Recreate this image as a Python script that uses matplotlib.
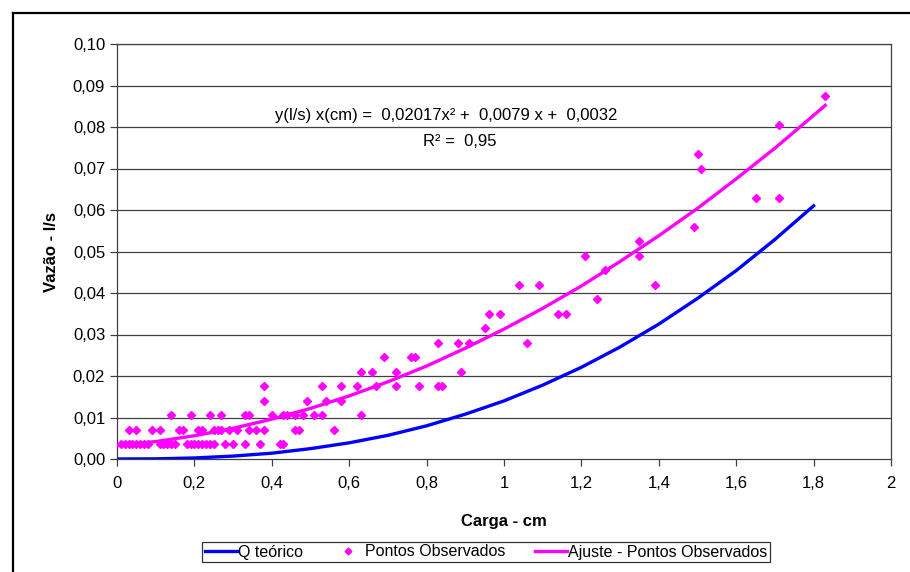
import matplotlib
matplotlib.use("Agg")
import matplotlib.pyplot as plt
from matplotlib.lines import Line2D

plt.rcParams["font.family"] = ["Liberation Sans", "DejaVu Sans"]

carga_obs = [0.01, 0.02, 0.03, 0.04, 0.05, 0.06, 0.07, 0.08, 0.11, 0.12, 0.13, 0.14, 0.15,
             0.18, 0.19, 0.20, 0.21, 0.22, 0.23, 0.24, 0.25, 0.28, 0.30, 0.33, 0.37, 0.42, 0.43,
             0.03, 0.05, 0.09, 0.11, 0.16, 0.17, 0.21, 0.22, 0.25, 0.26, 0.27, 0.29, 0.31, 0.34,
             0.36, 0.38, 0.46, 0.47, 0.56,
             0.14, 0.19, 0.24, 0.27, 0.33, 0.34, 0.40, 0.43, 0.44, 0.46, 0.48, 0.51, 0.53, 0.63,
             0.38, 0.49, 0.54, 0.58,
             0.38, 0.53, 0.58, 0.62, 0.67, 0.72, 0.78, 0.83, 0.84,
             0.63, 0.66, 0.72, 0.89,
             0.69, 0.76, 0.77,
             0.83, 0.88, 0.91, 1.06,
             0.95,
             0.96, 0.99, 1.14, 1.16,
             1.24,
             1.04, 1.09, 1.39,
             1.26,
             1.21, 1.35,
             1.35,
             1.49,
             1.65, 1.71,
             1.51,
             1.50,
             1.71,
             1.83]
vazao_obs = [0.0035] * 27 + [0.007] * 19 + [0.0105] * 14 + [0.014] * 4 + [0.0175] * 9 \
    + [0.021] * 4 + [0.0245] * 3 + [0.028] * 4 + [0.0315] + [0.035] * 4 + [0.0385] \
    + [0.042] * 3 + [0.0455] + [0.049] * 2 + [0.0525] + [0.056] + [0.063] * 2 \
    + [0.070] + [0.0735] + [0.0805] + [0.0875]

# Theoretical discharge curve
carga_teo = [0, 0.1, 0.2, 0.3, 0.4, 0.5, 0.6, 0.7, 0.8, 0.9, 1.0,
             1.1, 1.2, 1.3, 1.4, 1.5, 1.6, 1.7, 1.8]
vazao_teo = [0, 0.00004, 0.00025, 0.0007, 0.0014, 0.0025, 0.0039, 0.0057, 0.0080, 0.0108,
             0.0140, 0.0178, 0.0221, 0.0270, 0.0325, 0.0387, 0.0454, 0.0529, 0.0610]

# Trend line of the observed points
carga_fit = [0, 0.1, 0.2, 0.3, 0.4, 0.5, 0.6, 0.7, 0.8, 0.9, 1.0,
             1.1, 1.2, 1.3, 1.4, 1.5, 1.6, 1.7, 1.8, 1.83]
vazao_fit = [0.0032, 0.0042, 0.0056, 0.0074, 0.0096, 0.0122, 0.0152, 0.0186, 0.0224, 0.0267,
             0.0313, 0.0363, 0.0417, 0.0476, 0.0538, 0.0604, 0.0675, 0.0749, 0.0828, 0.0852]

x_ticks = [0, 0.2, 0.4, 0.6, 0.8, 1.0, 1.2, 1.4, 1.6, 1.8, 2.0]
x_labels = ["0", "0,2", "0,4", "0,6", "0,8", "1", "1,2", "1,4", "1,6", "1,8", "2"]
y_ticks = [0, 0.01, 0.02, 0.03, 0.04, 0.05, 0.06, 0.07, 0.08, 0.09, 0.10]
y_labels = ["0,00", "0,01", "0,02", "0,03", "0,04", "0,05", "0,06", "0,07", "0,08", "0,09", "0,10"]

fig = plt.figure(figsize=(9.1, 5.72), dpi=100)
ax = fig.add_axes([117 / 910, 1 - 459 / 572, (891 - 117) / 910, (459 - 44) / 572])

for yv in y_ticks[1:]:
    ax.axhline(yv, color="#404040", lw=0.9, zorder=1)

ax.plot(carga_teo, vazao_teo, color="#0000FF", lw=2.4, label="Q teórico", zorder=3)
ax.plot(carga_obs, vazao_obs, ls="none", marker="D", ms=4.3, color="#FF00FF",
        label="Pontos Observados", zorder=4)
ax.plot(carga_fit, vazao_fit, color="#FF00FF", lw=2.4, label="Ajuste - Pontos Observados", zorder=3)

ax.set_xlim(0, 2)
ax.set_ylim(0, 0.10)
ax.set_xticks(x_ticks)
ax.set_xticklabels(x_labels, fontsize=12)
ax.set_yticks(y_ticks)
ax.set_yticklabels(y_labels, fontsize=12)
ax.tick_params(axis="x", pad=7)
ax.tick_params(direction="out", length=5, width=0.9, color="#404040")
for s in ax.spines.values():
    s.set_color("#404040")
    s.set_linewidth(0.9)

ax.set_xlabel("Carga - cm", fontsize=12, fontweight="bold", labelpad=17)
ax.set_ylabel("Vazão - l/s", fontsize=12, fontweight="bold", labelpad=10)

ax.text(0.85, 0.0827, "y(l/s) x(cm) =  0,02017x² +  0,0079 x +  0,0032",
        ha="center", va="center", fontsize=12)
ax.text(0.886, 0.0764, "R² =  0,95", ha="center", va="center", fontsize=12)

leg = fig.legend(loc="center", bbox_to_anchor=(486 / 910, 1 - 552 / 572), ncol=3,
                 fontsize=11.5, frameon=True, fancybox=False, edgecolor="black",
                 handlelength=2.0, handletextpad=0.1, columnspacing=1.8,
                 borderpad=0.15, markerscale=0.8)
leg.get_frame().set_linewidth(0.9)

# outer chart frame (cut off on the right and bottom)
fig.add_artist(Line2D([13 / 910, 1.0], [1 - 13 / 572, 1 - 13 / 572], color="black", lw=1.6,
                      transform=fig.transFigure))
fig.add_artist(Line2D([13 / 910, 13 / 910], [0, 1 - 13 / 572], color="black", lw=1.6,
                      transform=fig.transFigure))

fig.savefig("out.png", dpi=100)
